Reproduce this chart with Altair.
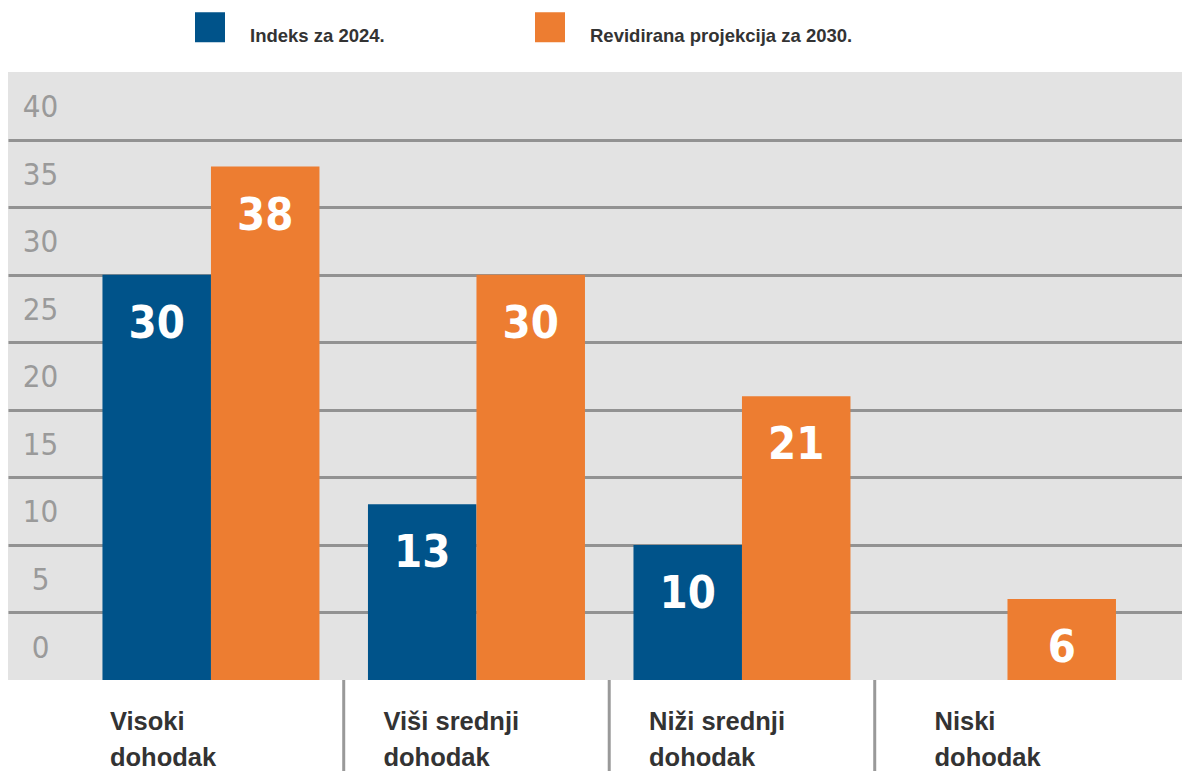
import altair as alt
import pandas as pd

categories = ["Visoki dohodak", "Viši srednji dohodak", "Niži srednji dohodak", "Niski dohodak"]
series = ["Indeks za 2024.", "Revidirana projekcija za 2030."]
values_2024 = [30, 13, 10, None]
values_2030 = [38, 30, 21, 6]
y_ticks = [0, 5, 10, 15, 20, 25, 30, 35, 40]
colors = ["#00538a", "#ed7d31"]

rows = []
for c, v1, v2 in zip(categories, values_2024, values_2030):
    if v1 is not None:
        rows.append({"cat": c, "series": series[0], "value": v1})
    if v2 is not None:
        rows.append({"cat": c, "series": series[1], "value": v2})
df = pd.DataFrame(rows)
sep_df = pd.DataFrame({"cat": categories[1:]})

COND_FONT = "'DejaVu Sans Condensed', 'DejaVu Sans', sans-serif"

x_enc = alt.X(
    "cat:N",
    sort=categories,
    title=None,
    scale=alt.Scale(paddingInner=0, paddingOuter=0.2109, align=0.627),
    axis=alt.Axis(
        domain=False,
        ticks=False,
        labelAngle=0,
        labelAlign="left",
        labelBaseline="top",
        labelPadding=29,
        labelOffset={
            "condition": [
                {"test": "datum.value == 'Visoki dohodak'", "value": -101},
                {"test": "datum.value == 'Niski dohodak'", "value": -73},
            ],
            "value": -93,
        },
        labelFont="Liberation Sans",
        labelFontWeight="bold",
        labelFontSize=25.5,
        labelColor="#333333",
        labelLineHeight=36,
        labelLimit=300,
        labelExpr="[replace(datum.label, ' dohodak', ''), 'dohodak']",
    ),
)
xoff = alt.XOffset("series:N", sort=series, scale=alt.Scale(domain=series, paddingInner=0, paddingOuter=0.2235))
y_enc = alt.Y(
    "value:Q",
    title=None,
    scale=alt.Scale(domain=[0, 45], nice=False),
    axis=alt.Axis(
        values=y_ticks,
        domain=False,
        ticks=False,
        grid=True,
        gridColor="#929292",
        gridWidth=3,
        gridOpacity=alt.condition("datum.value == 0", alt.value(0), alt.value(1)),
        labelAlign="center",
        labelBaseline="middle",
        labelPadding=-32,
        labelOffset=-32,
        labelFont=COND_FONT,
        labelFontWeight=300,
        labelFontSize=31,
        labelColor="#9a9a9a",
    ),
)

bars = alt.Chart(df).mark_bar(size=108.5).encode(
    x=x_enc,
    xOffset=xoff,
    y=y_enc,
    color=alt.Color(
        "series:N",
        sort=series,
        scale=alt.Scale(domain=series, range=colors),
        legend=alt.Legend(
            title=None,
            orient="none",
            legendX=187,
            legendY=-60,
            direction="horizontal",
            symbolType="square",
            symbolSize=900,
            symbolStrokeWidth=0,
            symbolOpacity=1,
            labelFont="Liberation Sans",
            labelFontWeight="bold",
            labelFontSize=18.5,
            labelColor="#333333",
            labelOffset=25,
            labelBaseline="top",
            columnPadding=150,
            padding=0,
            labelLimit=400,
        ),
    ),
)

labels = alt.Chart(df).mark_text(
    color="white",
    font=COND_FONT,
    fontWeight="bold",
    fontSize=45,
    baseline="middle",
    dy=49,
).encode(
    x=alt.X("cat:N", sort=categories),
    xOffset=xoff,
    y=alt.Y("value:Q"),
    text=alt.Text("value:Q", format="d"),
)

seps = alt.Chart(sep_df).mark_rule(color="#999999", strokeWidth=3).encode(
    x=alt.X("cat:N", sort=categories, bandPosition=0),
    y=alt.value(608),
    y2=alt.value(700),
)

chart = alt.layer(bars, labels, seps).properties(
    width=1174,
    height=608,
    autosize=alt.AutoSizeParams(type="none"),
    padding={"left": 8, "top": 72, "right": 0, "bottom": 91},
    background="white",
).configure_view(fill="#e3e3e3", stroke=None)

chart.save("out.html", embed_options={"renderer": "svg", "actions": False})
